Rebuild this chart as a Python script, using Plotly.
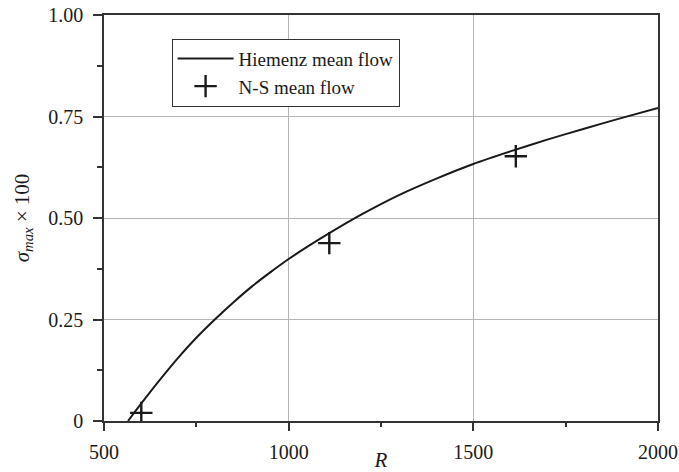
import plotly.graph_objects as go

# Hiemenz mean-flow curve: maximum growth rate vs Reynolds number
R_curve = [565, 600, 650, 700, 750, 800, 850, 900, 950, 1000, 1100, 1200,
           1300, 1400, 1500, 1600, 1700, 1800, 1900, 2000]
sigma_curve = [0.0, 0.042, 0.100, 0.155, 0.205, 0.250, 0.292, 0.331, 0.366,
               0.399, 0.457, 0.510, 0.557, 0.597, 0.633, 0.664, 0.693, 0.720,
               0.746, 0.771]

# Navier-Stokes mean-flow results
R_ns = [601, 1110, 1615]
sigma_ns = [0.020, 0.438, 0.652]

x_ticks = [500, 1000, 1500, 2000]
y_ticks = [0, 0.25, 0.5, 0.75, 1.0]
y_ticktext = ["0", "0.25", "0.50", "0.75", "1.00"]

FONT = "Liberation Serif, Times New Roman, serif"
INK = "#1a1a1a"
AXIS = "#333333"

fig = go.Figure()
fig.add_trace(go.Scatter(
    x=R_curve, y=sigma_curve, mode="lines", name="Hiemenz mean flow",
    line=dict(color=INK, width=2, shape="spline", smoothing=0.8),
))
fig.add_trace(go.Scatter(
    x=R_ns, y=sigma_ns, mode="markers", name="N-S mean flow",
    marker=dict(symbol="cross-thin", size=16, line=dict(color=INK, width=2.4)),
))

fig.update_layout(
    width=679, height=472,
    margin=dict(l=104, r=21, t=15, b=51),
    paper_bgcolor="white", plot_bgcolor="white",
    font=dict(family=FONT, size=20, color=INK),
    legend=dict(
        x=0.122, y=0.942, xanchor="left", yanchor="top",
        bgcolor="white", bordercolor=AXIS, borderwidth=1,
        itemwidth=56, tracegroupgap=0,
        font=dict(family=FONT, size=19, color=INK),
    ),
)

fig.update_xaxes(
    range=[500, 2000], tickvals=x_ticks, automargin=False,
    showline=True, linecolor=AXIS, linewidth=1.5, mirror=True,
    showgrid=True, gridcolor="#b5b5b5", gridwidth=1,
    ticks="outside", ticklen=8, tickwidth=1.5, tickcolor=AXIS,
    minor=dict(dtick=250, ticks="outside", ticklen=4, tickwidth=1.5,
               tickcolor=AXIS, showgrid=False),
    ticklabelstandoff=4,
    zeroline=False,
    title=dict(text="<i>R</i>", standoff=4, font=dict(size=21)),
)
fig.update_yaxes(
    range=[0, 1], tickvals=y_ticks, ticktext=y_ticktext, automargin=False,
    showline=True, linecolor=AXIS, linewidth=1.5, mirror=True,
    showgrid=True, gridcolor="#b5b5b5", gridwidth=1,
    ticks="outside", ticklen=9, tickwidth=1.5, tickcolor=AXIS,
    minor=dict(dtick=0.125, ticks="outside", ticklen=5, tickwidth=1.5,
               tickcolor=AXIS, showgrid=False),
    ticklabelstandoff=6,
    zeroline=False,
    title=dict(text="<i>σ</i><sub><i>max</i></sub> × 100", standoff=13,
               font=dict(size=21)),
)

fig.write_html("out.html")
